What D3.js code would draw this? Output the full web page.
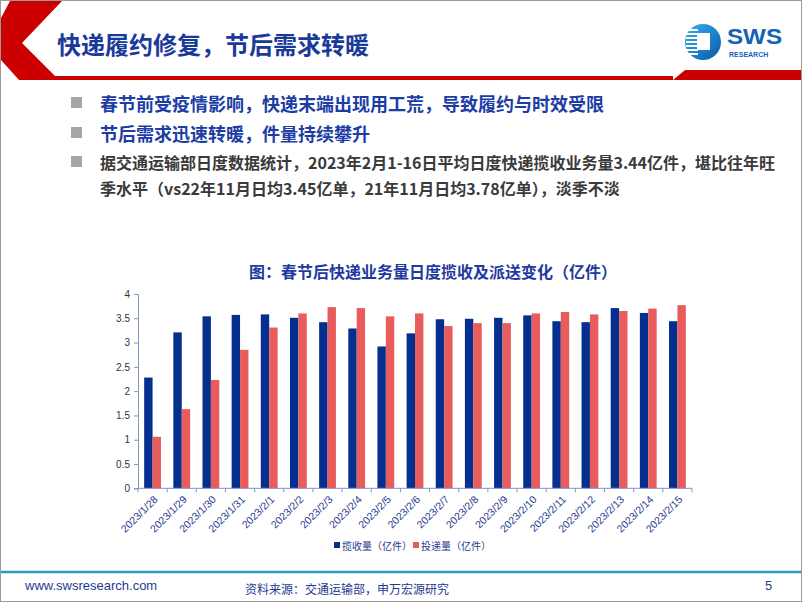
<!DOCTYPE html>
<html><head><meta charset="utf-8">
<script src="https://cdn.jsdelivr.net/npm/d3@7"></script>
<style>
html,body{margin:0;padding:0;background:#fff;}
svg{display:block;font-family:"Noto Sans CJK SC","Liberation Sans",sans-serif;}
</style></head>
<body>
<svg id="c" width="802" height="602"></svg>
<script>
const categories = ["2023/1/28","2023/1/29","2023/1/30","2023/1/31","2023/2/1","2023/2/2","2023/2/3","2023/2/4","2023/2/5","2023/2/6","2023/2/7","2023/2/8","2023/2/9","2023/2/10","2023/2/11","2023/2/12","2023/2/13","2023/2/14","2023/2/15"];
const collected = [2.28,3.21,3.54,3.57,3.58,3.51,3.42,3.29,2.92,3.19,3.48,3.49,3.51,3.56,3.44,3.42,3.71,3.61,3.44];
const delivered = [1.06,1.63,2.23,2.85,3.31,3.60,3.73,3.71,3.54,3.60,3.34,3.40,3.40,3.60,3.63,3.58,3.65,3.70,3.77];
const seriesNames = ["揽收量（亿件）","投递量（亿件）"];
const yTicks = [0,0.5,1,1.5,2,2.5,3,3.5,4];

const svg = d3.select("#c");
const BLUE = "#052f8e", RED = "#e85c5c", TXT = "#1f3a8f";

// frame
svg.append("rect").attr("x",0.5).attr("y",0.5).attr("width",801).attr("height",601)
  .attr("fill","#fff").attr("stroke","#9a9a9a");

// header red decoration
svg.append("polygon").attr("points","10,1 62,1 22,43 55,76 673,76 673,80 19,80 1,60 1,18").attr("fill","#cc0000");
svg.append("polygon").attr("points","673,80 685,70 801,70 801,80").attr("fill","#cc0000");

// title
svg.append("text").attr("x",57).attr("y",54).attr("font-size",24).attr("font-weight","bold")
  .attr("fill","#1a3a9a").text("快递履约修复，节后需求转暖");

// logo
const defs = svg.append("defs");
const lg = defs.append("linearGradient").attr("id","lg").attr("x1","0").attr("y1","0").attr("x2","1").attr("y2","1");
lg.append("stop").attr("offset","0").attr("stop-color","#38b4ef");
lg.append("stop").attr("offset","1").attr("stop-color","#0a56a8");
const logo = svg.append("g");
logo.append("circle").attr("cx",703).attr("cy",42).attr("r",18).attr("fill","url(#lg)");
[-12,-8,-4,0,4,8,12].forEach((dy,i)=>{
  logo.append("rect").attr("x",686).attr("y",42+dy-1).attr("width",12).attr("height",2).attr("fill","#fff");
});
logo.append("rect").attr("x",697).attr("y",33).attr("width",13).attr("height",17).attr("fill","#fff");
logo.append("text").attr("x",727).attr("y",44).attr("font-family","Liberation Sans, Arial").attr("font-size",22)
  .attr("font-weight","bold").attr("fill","#1762b5").attr("textLength",55).attr("lengthAdjust","spacingAndGlyphs").text("SWS");
logo.append("text").attr("x",729).attr("y",57).attr("font-family","Liberation Sans, Arial").attr("font-size",7)
  .attr("font-weight","bold").attr("fill","#1762b5").text("RESEARCH");

// bullets
const bullets = [
  {y:103, text:"春节前受疫情影响，快递末端出现用工荒，导致履约与时效受限", size:18, color:"#1c3da5", weight:"bold"},
  {y:133, text:"节后需求迅速转暖，件量持续攀升", size:18, color:"#1c3da5", weight:"bold"},
  {y:162, text:"据交通运输部日度数据统计，2023年2月1-16日平均日度快递揽收业务量3.44亿件，堪比往年旺", size:16, color:"#3a3a3a", weight:"bold"}
];
bullets.forEach(b=>{
  svg.append("rect").attr("x",71).attr("y",b.y-6).attr("width",11).attr("height",11).attr("fill","#a6a6a6");
  svg.append("text").attr("x",100).attr("y",b.y).attr("dominant-baseline","central")
    .attr("font-size",b.size).attr("font-weight",b.weight).attr("fill",b.color).text(b.text);
});
svg.append("text").attr("x",100).attr("y",188).attr("dominant-baseline","central")
  .attr("font-size",16).attr("font-weight","bold").attr("fill","#3a3a3a")
  .text("季水平（vs22年11月日均3.45亿单，21年11月日均3.78亿单），淡季不淡");

// chart title
svg.append("text").attr("x",433).attr("y",271).attr("text-anchor","middle").attr("dominant-baseline","central")
  .attr("font-size",16).attr("font-weight","bold").attr("fill","#1f3a9f")
  .text("图：春节后快递业务量日度揽收及派送变化（亿件）");

// chart
const x = d3.scaleBand().domain(categories).range([138,692]).paddingInner(0).paddingOuter(0);
const y = d3.scaleLinear().domain([0,4]).range([488.3,294]);
const bw = 8.4;

const g = svg.append("g");
g.selectAll(".b1").data(categories).enter().append("rect")
  .attr("x",(d)=>x(d)+x.bandwidth()/2-bw)
  .attr("y",(d,i)=>y(collected[i])).attr("width",bw)
  .attr("height",(d,i)=>y(0)-y(collected[i])).attr("fill",BLUE);
g.selectAll(".b2").data(categories).enter().append("rect")
  .attr("x",(d)=>x(d)+x.bandwidth()/2)
  .attr("y",(d,i)=>y(delivered[i])).attr("width",bw)
  .attr("height",(d,i)=>y(0)-y(delivered[i])).attr("fill",RED);

// y axis
const yAxis = d3.axisLeft(y).tickValues(yTicks).tickSize(4).tickFormat(d=>String(d));
const ya = svg.append("g").attr("transform","translate(138,0)").call(yAxis);
ya.select(".domain").attr("stroke","#8196c4");
ya.selectAll(".tick line").attr("stroke","#8196c4");
ya.selectAll("text").attr("font-size",10).attr("fill","#333").attr("font-family","Liberation Sans, Arial").attr("dx","-1");

// x axis with ticks at boundaries
const xa = svg.append("g");
xa.append("line").attr("x1",138).attr("x2",692).attr("y1",y(0)).attr("y2",y(0)).attr("stroke","#8196c4");
const bounds = categories.map(c=>x(c)).concat([x(categories[categories.length-1])+x.bandwidth()]);
xa.selectAll(".xt").data(bounds).enter().append("line")
  .attr("x1",d=>d).attr("x2",d=>d).attr("y1",y(0)).attr("y2",y(0)+4).attr("stroke","#8196c4");
xa.selectAll(".xl").data(categories).enter().append("text")
  .attr("transform",d=>`translate(${x(d)+x.bandwidth()/2+3},${y(0)+9}) rotate(-45)`)
  .attr("text-anchor","end").attr("dominant-baseline","central")
  .attr("font-size",10.5).attr("font-family","Liberation Sans, Arial").attr("fill",TXT).text(d=>d);

// legend
const leg = svg.append("g");
const lx = [334, 413];
seriesNames.forEach((n,i)=>{
  leg.append("rect").attr("x",lx[i]).attr("y",542).attr("width",6).attr("height",6).attr("fill",i===0?BLUE:RED);
  leg.append("text").attr("x",lx[i]+8).attr("y",545).attr("dominant-baseline","central")
    .attr("font-size",10).attr("fill",TXT).text(n);
});

// footer
svg.append("line").attr("x1",1).attr("x2",801).attr("y1",572).attr("y2",572).attr("stroke","#2a9cc8").attr("stroke-width",2.5);
svg.append("text").attr("x",25).attr("y",585).attr("dominant-baseline","central").attr("font-size",13)
  .attr("font-family","Liberation Sans, Arial").attr("fill","#1f3a8f").text("www.swsresearch.com");
svg.append("text").attr("x",245).attr("y",588).attr("dominant-baseline","central").attr("font-size",12)
  .attr("fill","#1f3a8f").text("资料来源：交通运输部，申万宏源研究");
svg.append("text").attr("x",765).attr("y",585).attr("dominant-baseline","central").attr("font-size",13)
  .attr("font-family","Liberation Sans, Arial").attr("fill","#1f3a8f").text("5");
</script>
</body></html>
